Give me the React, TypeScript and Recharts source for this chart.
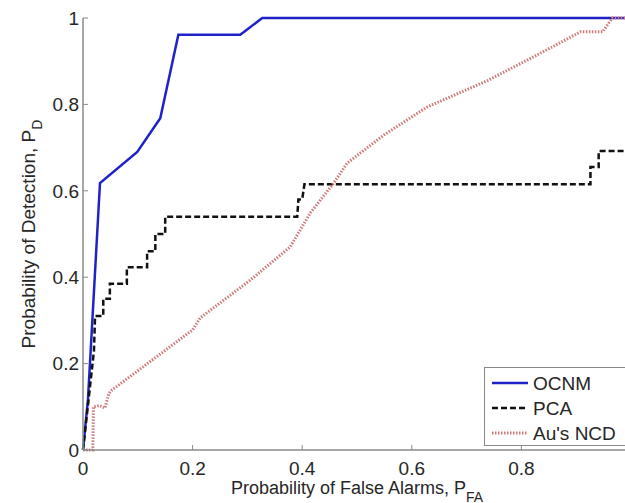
import { LineChart, Line, XAxis, YAxis, Legend } from "recharts"

// ROC curves
const ocnmFa = [0, 0.009, 0.031, 0.099, 0.141, 0.174, 0.287, 0.327, 1]
const ocnmPd = [0, 0.116, 0.618, 0.69, 0.768, 0.961, 0.961, 1, 1]

const pcaFa = [0, 0.02, 0.022, 0.037, 0.037, 0.049, 0.049, 0.08, 0.08, 0.117, 0.117, 0.132, 0.132, 0.15, 0.15, 0.391, 0.393, 0.4, 0.404, 0.926, 0.926, 0.941, 0.941, 1]
const pcaPd = [0, 0.23, 0.31, 0.31, 0.35, 0.35, 0.385, 0.385, 0.423, 0.423, 0.46, 0.46, 0.5, 0.5, 0.54, 0.54, 0.58, 0.58, 0.615, 0.615, 0.655, 0.655, 0.692, 0.692]

const auFa = [0, 0.018, 0.019, 0.03, 0.04, 0.047, 0.052, 0.2, 0.214, 0.305, 0.378, 0.415, 0.457, 0.482, 0.55, 0.628, 0.738, 0.822, 0.908, 0.948, 0.966, 1]
const auPd = [0, 0, 0.1, 0.103, 0.097, 0.13, 0.138, 0.278, 0.306, 0.393, 0.47, 0.549, 0.617, 0.664, 0.73, 0.794, 0.855, 0.91, 0.968, 0.968, 1, 1]

const ticks = [0, 0.2, 0.4, 0.6, 0.8, 1]

const toPoints = (xs: number[], ys: number[]) => xs.map((x, i) => ({ x, y: ys[i] }))

const FONT = "'Liberation Sans', Arial, sans-serif"
const TEXT = "#262626"
const AXIS = "#8a8a8a"

const series = [
  { name: "OCNM", data: toPoints(ocnmFa, ocnmPd), color: "#1f22c8", dash: undefined as string | undefined, width: 2.5 },
  { name: "PCA", data: toPoints(pcaFa, pcaPd), color: "#111111", dash: "6 3", width: 2.5 },
  { name: "Au's NCD", data: toPoints(auFa, auPd), color: "#cf7a7a", dash: "1.5 1.5", width: 3 },
]

function LegendBox() {
  return (
    <svg width={150} height={80} style={{ display: "block" }}>
      <rect x={0.5} y={0.5} width={148} height={78} fill="#fff" stroke={AXIS} strokeWidth={1} />
      {series.map((s, i) => {
        const cy = 16 + i * 25
        return (
          <g key={s.name}>
            <line x1={8} x2={44} y1={cy} y2={cy} stroke={s.color} strokeWidth={s.width} strokeDasharray={s.dash} />
            <text x={49} y={cy} dy="0.36em" fontSize={19} fontFamily={FONT} fill={TEXT}>
              {s.name}
            </text>
          </g>
        )
      })}
    </svg>
  )
}

export default function App() {
  return (
    <div style={{ position: "absolute", left: 0, top: 0, width: 625, height: 503, overflow: "hidden", background: "#fff" }}>
      <LineChart width={641} height={503} margin={{ top: 18, right: 10, bottom: 0, left: 0 }}>
        <XAxis
          xAxisId="top"
          orientation="top"
          type="number"
          dataKey="x"
          domain={[0, 1]}
          ticks={ticks}
          height={0}
          tickSize={-5}
          tickFormatter={() => ""}
          axisLine={{ stroke: AXIS, strokeWidth: 1.5 }}
          tickLine={{ stroke: AXIS }}
        />
        <XAxis
          type="number"
          dataKey="x"
          domain={[0, 1]}
          ticks={ticks}
          height={53}
          tickSize={-5}
          tickMargin={17}
          // the 1 sits past the cropped right edge of the figure
          tickFormatter={(v: number) => (v === 1 ? "" : String(v))}
          tick={{ fontSize: 19, fontFamily: FONT, fill: TEXT }}
          axisLine={{ stroke: AXIS, strokeWidth: 1.5 }}
          tickLine={{ stroke: AXIS }}
          label={{
            content: ({ viewBox }: any) => (
              <text x={viewBox.x + viewBox.width / 2} y={viewBox.y + 44} textAnchor="middle" fontSize={18} fontFamily={FONT} fill={TEXT}>
                Probability of False Alarms, P
                <tspan fontSize={14} dy={8}>FA</tspan>
              </text>
            ),
          }}
        />
        <YAxis
          type="number"
          domain={[0, 1]}
          ticks={ticks}
          width={83}
          tickSize={-5}
          tickMargin={9}
          tickFormatter={(v: number) => String(v)}
          tick={{ fontSize: 19, fontFamily: FONT, fill: TEXT }}
          axisLine={{ stroke: AXIS, strokeWidth: 1.5 }}
          tickLine={{ stroke: AXIS }}
          label={{
            content: ({ viewBox }: any) => {
              const cx = 35
              const cy = viewBox.y + viewBox.height / 2
              return (
                <text x={cx} y={cy} transform={`rotate(-90 ${cx} ${cy})`} textAnchor="middle" fontSize={19} fontFamily={FONT} fill={TEXT}>
                  Probability of Detection, P
                  <tspan fontSize={14} dy={7}>D</tspan>
                </text>
              )
            },
          }}
        />
        <Legend
          layout="vertical"
          align="center"
          verticalAlign="middle"
          content={() => <LegendBox />}
          wrapperStyle={{ left: 484, top: 367, width: 150, height: 80 }}
        />
        {series.map((s) => (
          <Line
            key={s.name}
            name={s.name}
            data={s.data}
            dataKey="y"
            type="linear"
            stroke={s.color}
            strokeWidth={s.width}
            strokeDasharray={s.dash}
            dot={false}
            activeDot={false}
            isAnimationActive={false}
          />
        ))}
      </LineChart>
    </div>
  )
}
